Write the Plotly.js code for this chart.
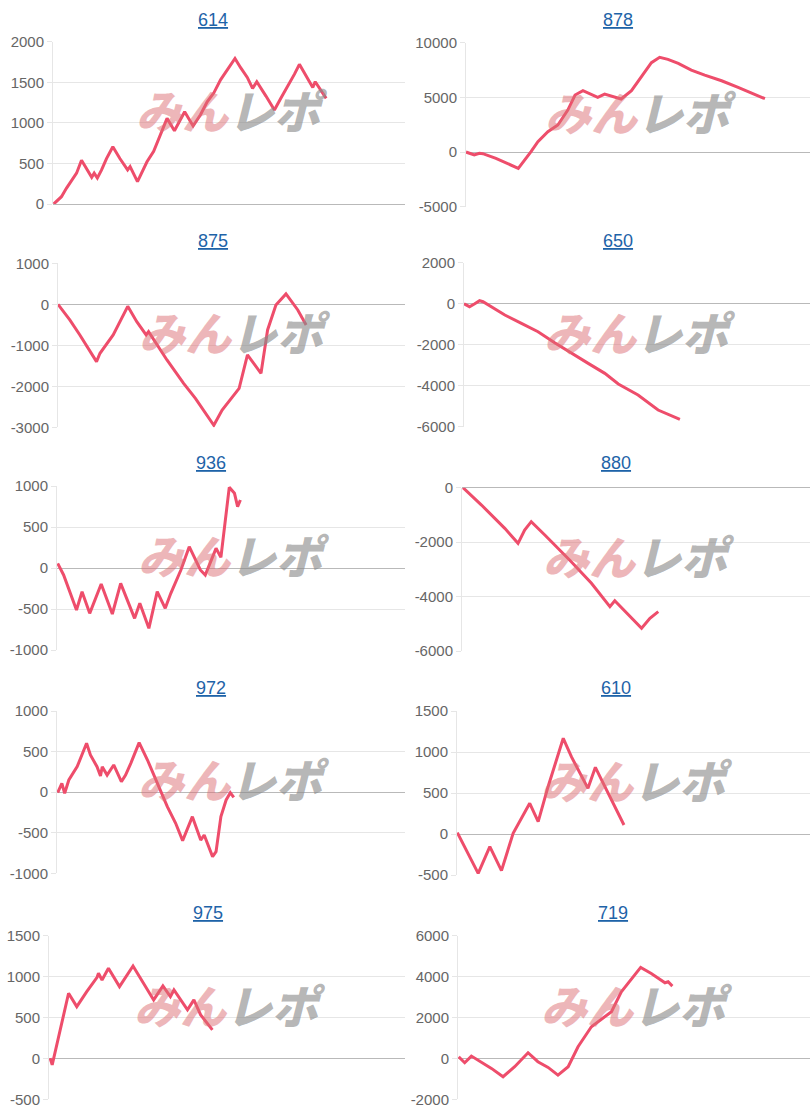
<!DOCTYPE html>
<html><head><meta charset="utf-8">
<script src="https://cdn.plot.ly/plotly-3.0.1.min.js"></script>
<style>html,body{margin:0;padding:0;background:#fff}#chart{width:810px;height:1115px}</style>
</head><body><div id="chart"></div>
<script>
// ---- data (x = position along the game axis, 0..100; y = difference in medals) ----
const titles = ['614','878','875','650','936','880','972','610','975','719'];

const x614 = [0.2,2.4,3.8,5.2,6.7,8.1,9.5,11.0,11.7,12.6,13.8,15.2,17.0,19.0,21.2,21.9,24.0,25.2,26.7,28.6,30.5,32.4,34.5,37.4,39.8,41.9,43.8,45.7,47.6,49.5,51.7,53.3,55.2,56.7,57.9,60.5,62.9,64.8,66.7,68.6,70.0,71.9,73.8,74.5,76.2,77.6];
const y614 = [0,90,193,290,380,540,430,330,380,320,420,560,706,560,420,460,275,380,520,650,860,1055,903,1137,961,1100,1260,1370,1530,1650,1794,1680,1560,1425,1507,1330,1158,1310,1450,1600,1721,1580,1437,1507,1400,1302];

const x878 = [0,2.4,3.9,4.9,8.7,12.1,15.2,18.9,20.9,23.8,26.7,29.6,31.7,34.0,35.9,38.3,40.3,42.7,45.1,48.1,51.0,53.9,56.3,58.7,61.7,65.5,69.4,74.3,79.1,83.0,86.9];
const y878 = [0,-274,-122,-150,-580,-1037,-1494,30,945,1860,2470,3840,5213,5610,5366,5000,5300,5060,4848,5610,6890,8170,8660,8475,8110,7500,7040,6520,5915,5366,4880];

const x875 = [0,3.4,6.3,11.1,12.1,15.9,20.1,22.7,25.4,26.1,31.4,36.2,39.6,44.9,47.3,52.2,54.6,58.5,60.4,62.8,65.7,69.1,71.5];
const y875 = [0,-382,-748,-1398,-1195,-748,-50,-423,-748,-667,-1358,-1927,-2293,-2950,-2577,-2049,-1236,-1683,-626,-16,252,-138,-504];

const x650 = [0,1.6,3.1,4.5,5.5,11.8,16.6,21.4,26.2,31.1,35.9,40.7,44.6,50.3,56.1,62.4];
const y650 = [0,-146,0,146,98,-553,-959,-1366,-1902,-2423,-2911,-3398,-3919,-4455,-5187,-5642];

const x936 = [0.2,1.9,5.6,7.2,9.4,12.7,15.9,18.3,22.3,23.8,26.4,28.8,31.1,32.7,35.6,38.0,41.2,42.6,45.7,47.1,49.5,51.0,51.9,52.7];
const y936 = [57,-85,-512,-289,-553,-195,-561,-187,-614,-431,-736,-289,-492,-309,-24,260,-24,-85,240,130,984,911,748,829];

const x880 = [0.3,5.6,12.3,16.1,18.0,19.9,23.8,26.7,31.4,37.2,42.5,43.9,51.6,54.0,56.4];
const y880 = [0,-637,-1494,-2045,-1555,-1249,-1739,-2106,-2718,-3514,-4371,-4151,-5167,-4800,-4555];

const x972 = [0.2,1.4,2.2,3.4,5.8,8.5,9.6,11.5,12.5,13.0,14.4,16.3,18.5,19.7,21.2,23.6,26.0,28.8,31.7,34.1,36.1,38.9,41.3,42.3,44.7,45.7,47.1,48.6,49.8,50.8];
const y972 = [-6,109,-14,150,314,602,458,314,199,314,211,335,129,211,355,610,396,109,-179,-384,-597,-302,-590,-528,-795,-733,-302,-96,-6,-64];

const x610 = [0.1,2.2,6.0,9.3,12.6,15.9,20.6,23.0,25.8,30.1,32.4,37.1,39.2,41.9,47.3];
const y610 = [16,-154,-480,-154,-447,8,374,150,577,1167,943,557,813,577,110];

const x975 = [0.3,0.9,5.5,7.8,10.6,13.5,13.9,14.9,16.7,19.8,23.6,25.7,27.6,29.4,32.0,34.1,35.1,38.9,40.7,42.6,45.9];
const y975 = [2,-79,796,633,817,991,1041,959,1102,878,1130,980,857,715,886,756,837,593,715,532,348];

const x719 = [0.2,1.9,3.8,6.6,9.5,12.8,16.1,19.9,22.7,25.6,28.4,31.3,34.1,37.9,40.8,43.6,46.4,51.2,51.9,54.9,58.8,59.7,60.9];
const y719 = [81,-212,114,-163,-489,-896,-407,277,-163,-440,-815,-407,570,1548,1906,2281,3259,4318,4448,4155,3699,3747,3536];

const seriesX = [x614,x878,x875,x650,x936,x880,x972,x610,x975,x719];
const seriesY = [y614,y878,y875,y650,y936,y880,y972,y610,y975,y719];

// y-axis tick settings (range min, range max, step)
const yMin  = [0,-5000,-3000,-6000,-1000,-6000,-1000,-500,-500,-2000];
const yMax  = [2000,10000,1000,2000,1000,0,1000,1500,1500,6000];
const yStep = [500,5000,1000,2000,500,2000,500,500,500,2000];

// ---- panel geometry in pixels (left, right, top, bottom) ----
const W = 810, H = 1115;
const pL = [53,466,58,464,57,462,57,457,49,458];
const pR = [405,810,405,810,405,810,405,810,405,810];
const pT = [41.7,42.7,263.3,262.7,486,487.7,711,711,935.7,935.7];
const pB = [204,206.7,427.3,426.7,650,651,873.3,875,1099.3,1099.3];
const tX = [213,618,213,618,211,616,211,616,208,613];
const tY = [20,20,240.7,240.7,463,463,688,688,912.7,912.7];

const FONT = '"Liberation Sans", Arial, sans-serif';
const traces = [];
const layout = {
  width: W, height: H,
  margin: {l:0, r:0, t:0, b:0},
  paper_bgcolor: '#fff', plot_bgcolor: '#fff',
  showlegend: false,
  font: {family: FONT},
  annotations: []
};

for (let i = 0; i < 10; i++) {
  const n = i === 0 ? '' : String(i + 1);
  const tv = [];
  for (let v = yMin[i]; v <= yMax[i]; v += yStep[i]) tv.push(v);
  traces.push({
    x: seriesX[i], y: seriesY[i],
    xaxis: 'x' + n, yaxis: 'y' + n,
    type: 'scatter', mode: 'lines',
    line: {color: '#ee4d6b', width: 3},
    hoverinfo: 'skip'
  });
  layout['xaxis' + n] = {
    domain: [pL[i] / W, pR[i] / W],
    anchor: 'y' + n,
    range: [0, 100],
    showgrid: false, zeroline: false, showline: false,
    showticklabels: false, ticks: '', fixedrange: true
  };
  layout['yaxis' + n] = {
    domain: [1 - pB[i] / H, 1 - pT[i] / H],
    anchor: 'x' + n,
    range: [yMin[i], yMax[i]],
    tickmode: 'array', tickvals: tv, ticktext: tv.map(v => String(v)),
    showgrid: true, gridcolor: '#e6e6e6', gridwidth: 1,
    zeroline: true, zerolinecolor: '#b9b9b9', zerolinewidth: 1,
    showline: true, linecolor: '#e6e6e6', linewidth: 1,
    ticks: 'outside', ticklen: 5, tickcolor: '#e6e6e6',
    tickfont: {family: FONT, size: 15, color: '#666'},
    fixedrange: true
  };
  // title
  layout.annotations.push({
    xref: 'paper', yref: 'paper',
    x: tX[i] / W, y: 1 - tY[i] / H,
    xanchor: 'center', yanchor: 'middle',
    text: titles[i], showarrow: false,
    font: {family: FONT, size: 18, color: '#1e63a8', lineposition: 'under'}
  });
  // watermark
  const cx = (pL[i] + pR[i]) / 2 + 3;
  const cy = (pT[i] + pB[i]) / 2 - 14;
  layout.annotations.push({
    xref: 'paper', yref: 'paper',
    x: cx / W, y: 1 - cy / H,
    xanchor: 'center', yanchor: 'middle',
    showarrow: false,
    text: '<span style="color:rgba(220,110,115,0.5)">みん</span><span style="color:rgba(140,140,140,0.65)">レポ</span>',
    font: {family: '"Noto Sans CJK JP", sans-serif', size: 46, weight: 900, style: 'italic'}
  });
}

Plotly.newPlot('chart', traces, layout, {displayModeBar: false, staticPlot: true});
</script>
</body></html>
